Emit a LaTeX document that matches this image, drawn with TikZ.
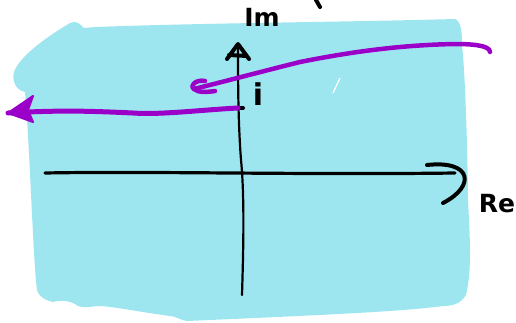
\documentclass[tikz,border=0pt]{standalone}
\usepackage{fontspec}
\setmainfont{DejaVu Sans}
\definecolor{sky}{RGB}{158,230,239}
\definecolor{violet}{RGB}{155,0,200}
\begin{document}
\begin{tikzpicture}[x=1pt,y=-1pt,
  axis/.style={line width=3.2pt,line cap=round,line join=round,black},
  pline/.style={line width=5pt,line cap=round,line join=round,violet},
  lbl/.style={font=\bfseries\fontsize{25}{27}\selectfont,inner sep=0pt}]
\useasboundingbox (0,0) rectangle (516,322);
% cyan background blob
\fill[sky] (70,23) .. controls (76,20) and (80,24) .. (84,28)
  -- (95,27) .. controls (200,23) and (350,22) .. (455,19)
  .. controls (462,22) and (462,35) .. (462,45)
  .. controls (466,80) and (468,180) .. (468,200)
  .. controls (470,240) and (472,270) .. (466,295)
  .. controls (460,305) and (450,306) .. (443,306)
  .. controls (400,312) and (300,316) .. (187,321)
  .. controls (180,320) and (175,316) .. (170,316)
  .. controls (140,312) and (110,306) .. (98,306)
  .. controls (90,307) and (82,308) .. (78,306)
  .. controls (70,300) and (60,300) .. (53,302)
  .. controls (45,300) and (40,298) .. (37,290)
  .. controls (33,260) and (30,150) .. (25,92)
  .. controls (15,90) and (12,80) .. (14,72)
  .. controls (20,55) and (50,35) .. (70,23) -- cycle;
\draw[white,line width=1.2pt] (333,93) -- (340,78);
% axes
\coordinate (xl) at (45,173);
\coordinate (xr) at (455,173);
\coordinate (yb) at (242,295);
\coordinate (yt) at (238,44);
\draw[axis] (xl) .. controls (150,171) and (300,175) .. (xr);
\draw[axis,line width=4pt] (427,165) .. controls (472,160) and (476,186) .. (443,203);
\draw[axis,line width=2.2pt] (yb) .. controls (243,260) and (245,200) .. (241,160)
  .. controls (238,120) and (238,80) .. (yt);
\draw[axis,line width=4pt] (227,59) -- (238,44) -- (249,59) (229,55) -- (247,56);
% tick and labels
\draw[axis,line width=4pt] (230,108) -- (243,108);
\node[lbl] (im) at (262,17) {Im};
\node[lbl] (re) at (497,204) {Re};
\node[lbl,font=\bfseries\fontsize{30}{32}\selectfont] (iu) at (258,94) {i};
\draw[axis,line width=4pt] (316,0) -- (320,7);
% purple lines
\coordinate (a1) at (490,52);
\coordinate (t1) at (194,89);
\draw[pline,line width=4.5pt] (a1) .. controls (490,45) and (470,44) .. (455,44)
  .. controls (400,45) and (350,52) .. (300,62)
  .. controls (260,72) and (230,80) .. (t1);
\draw[pline,line width=4.5pt] (205,81) .. controls (195,79) and (189,87) .. (t1)
  .. controls (198,93) and (208,92) .. (215,91);
\coordinate (s2) at (238,108);
\coordinate (t2) at (8,113);
\draw[pline] (s2) .. controls (200,110) and (160,115) .. (133,113)
  .. controls (90,111) and (60,110) .. (t2);
\fill[violet,draw=violet,line width=2pt,line join=round] (t2) -- (33,96) -- (28,110) -- (33,122) -- cycle;
\end{tikzpicture}
\end{document}
